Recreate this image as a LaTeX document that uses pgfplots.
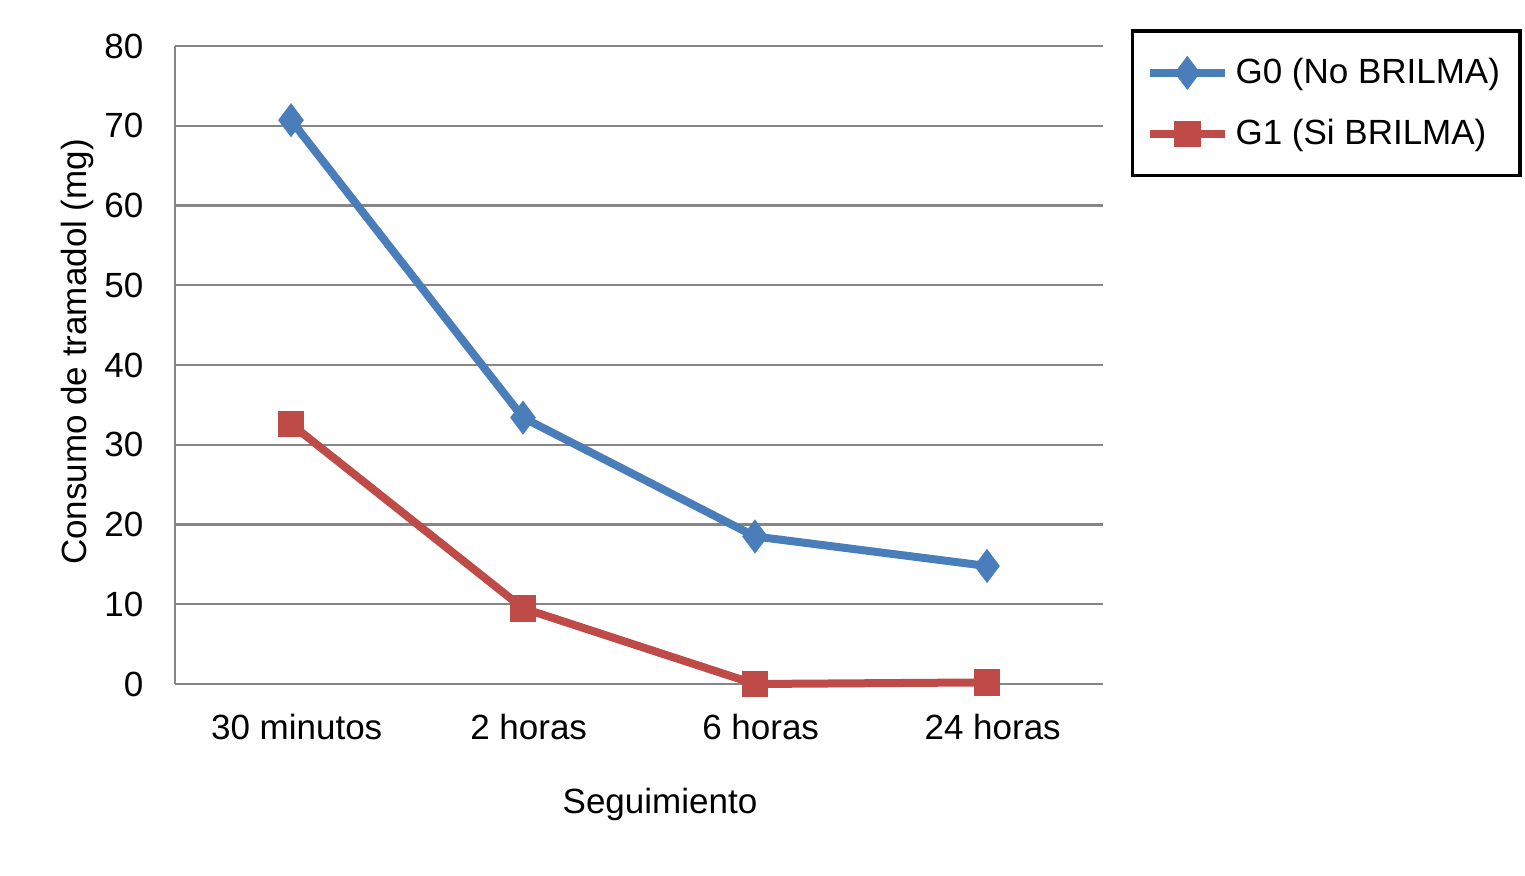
\documentclass[border=0pt]{standalone}
\usepackage{fontspec}
\setmainfont{Liberation Sans}
\usepackage{pgfplots}
\pgfplotsset{compat=1.18}

\definecolor{gzero}{RGB}{74,126,187}
\definecolor{gone}{RGB}{190,75,72}
\definecolor{gridgray}{RGB}{134,134,134}

\newcommand{\chartfont}{\fontsize{10.5pt}{12.6pt}\selectfont}

\begin{document}
\begin{tikzpicture}
\path[use as bounding box] (0,0) rectangle (457.5pt,262.5pt);
\begin{axis}[
  at={(52.5pt,57.3pt)}, anchor=south west,
  scale only axis,
  width=278.4pt, height=191.4pt,
  xmin=-0.5, xmax=3.5,
  ymin=0, ymax=80,
  ytick={0,10,...,80},
  xtick={0,1,2,3},
  xticklabels={30 minutos,2 horas,6 horas,24 horas},
  axis x line=bottom, axis y line=left,
  axis line style={gridgray, line width=0.8pt, -},
  ymajorgrids,
  grid style={gridgray, line width=0.7pt},
  major tick length=0pt,
  tick label style={font=\chartfont, inner sep=0pt},
  yticklabel style={xshift=-9.3pt},
  xticklabel style={yshift=-8.7pt, xshift=1.7pt},
  /pgf/number format/assume math mode=true,
  xlabel={Seguimiento},
  ylabel={Consumo de tramadol (mg)},
  label style={font=\chartfont},
  xlabel style={at={(axis description cs:0.5226,0)}, anchor=center, yshift=-36pt},
  ylabel style={at={(axis description cs:0,0.5204)}, anchor=center, yshift=29.4pt},
  clip=false,
  legend style={
    at={(axis description cs:1.030,1.0261)}, anchor=north west,
    draw=black, line width=1pt,
    font=\chartfont,
    inner xsep=4pt, inner ysep=6pt,
    row sep=5.2pt,
    cells={anchor=west},
  },
  legend image code/.code={
    \draw[mark repeat=2,mark phase=2,#1] plot coordinates {(0pt,0pt) (11.25pt,0pt) (22.5pt,0pt)};
  },
]
\addplot[gzero, line width=2.4pt, mark=diamond*, mark size=4.8pt,
  mark options={solid, line width=0.4pt, fill=gzero}]
  coordinates {(0,70.7) (1,33.4) (2,18.5) (3,14.8)};
\addlegendentry{G0 (No BRILMA)}
\addplot[gone, line width=2.4pt, mark=square*, mark size=3.8pt,
  mark options={solid, line width=0.4pt, fill=gone}]
  coordinates {(0,32.6) (1,9.5) (2,0) (3,0.2)};
\addlegendentry{G1 (Si BRILMA)}
\end{axis}
\end{tikzpicture}
\end{document}
